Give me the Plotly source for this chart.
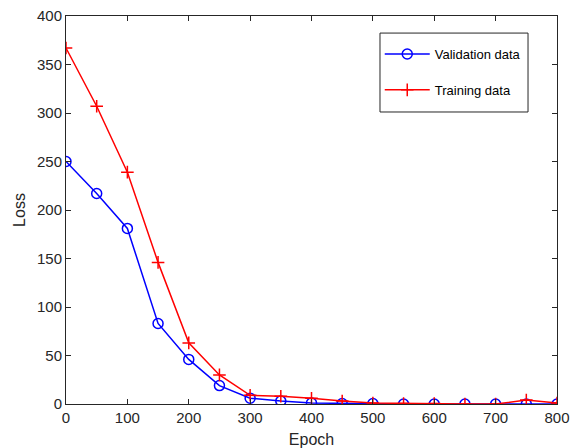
import plotly.graph_objects as go

epochs = [0, 50, 100, 150, 200, 250, 300, 350, 400, 450, 500, 550, 600, 650, 700, 750, 800]
validation_loss = [250, 217, 181, 83, 46, 19, 6, 3, 1, 0.5, 0.5, 0, 0, 0, 0, 0, 0]
training_loss = [367, 307, 239, 146, 63, 30, 9, 8, 6, 3, 1, 0.5, 0.5, 0, 0, 4, 1]

x_ticks = [0, 100, 200, 300, 400, 500, 600, 700, 800]
y_ticks = [0, 50, 100, 150, 200, 250, 300, 350, 400]

axis_color = "#262626"
font_family = "Arial, Liberation Sans, Helvetica, sans-serif"

fig = go.Figure()
fig.add_trace(go.Scatter(
    x=epochs, y=validation_loss, name="Validation data", legendgroup="val",
    mode="lines+markers",
    line=dict(color="#0000ff", width=1.5),
    marker=dict(symbol="circle-open", size=10, color="#0000ff", line=dict(width=1.5)),
))
fig.add_trace(go.Scatter(
    x=epochs, y=training_loss, name="Training data", legendgroup="train",
    mode="lines+markers",
    line=dict(color="#ff0000", width=1.5),
    marker=dict(symbol="cross-thin-open", size=9, color="#ff0000", line=dict(width=1.5, color="#ff0000")),
))

axis_common = dict(
    showgrid=False, zeroline=False, automargin=False,
    showline=True, linecolor=axis_color, linewidth=1, mirror="ticks",
    ticks="inside", ticklen=5, tickcolor=axis_color, tickwidth=1,
    tickfont=dict(family=font_family, size=15, color=axis_color),
)

fig.update_xaxes(
    range=[0, 800], tickvals=x_ticks,
    title=dict(text="Epoch", font=dict(family=font_family, size=16, color=axis_color), standoff=10),
    **axis_common,
)
fig.update_yaxes(
    range=[0, 400], tickvals=y_ticks,
    title=dict(text="Loss", font=dict(family=font_family, size=16, color=axis_color), standoff=7),
    **axis_common,
)

# legend frame drawn as a separate box so the entries can sit with MATLAB-like padding
fig.add_shape(
    type="rect", xref="paper", yref="paper",
    x0=0.6395, x1=0.941, y0=0.7526, y1=0.956,
    line=dict(color=axis_color, width=1), fillcolor="white", layer="below",
)

fig.update_layout(
    width=574, height=448,
    margin=dict(l=66, r=17, t=16, b=44),
    plot_bgcolor="white", paper_bgcolor="white",
    font=dict(family=font_family, color=axis_color),
    legend=dict(
        x=0.639, y=0.9407, xanchor="left", yanchor="top",
        bgcolor="rgba(0,0,0,0)", borderwidth=0,
        font=dict(family=font_family, size=13, color="#000000"),
        itemwidth=45, tracegroupgap=16,
        entrywidth=95,
    ),
    showlegend=True,
)

fig.write_html("out.html")
